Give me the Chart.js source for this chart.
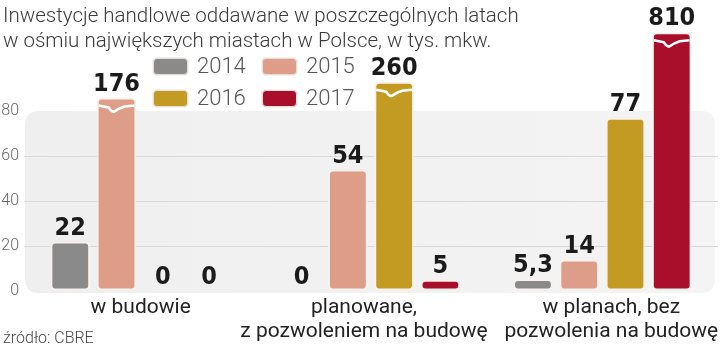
<!DOCTYPE html>
<html>
<head>
<meta charset="utf-8">
<script src="https://cdn.jsdelivr.net/npm/chart.js@4.4.1/dist/chart.umd.min.js"></script>
<style>
  html, body { margin: 0; padding: 0; background: #fff; }
  #wrap { position: relative; width: 720px; height: 347px; overflow: hidden; }
  #c { position: absolute; left: 0; top: 0; }
  .title { position: absolute; left: 3px; top: 3px; font-family: Roboto, sans-serif; font-weight: 300; font-size: 20.5px; line-height: 25px; color: #3a3a3a; white-space: nowrap; }
  .src { position: absolute; left: 3px; top: 328px; font-family: Roboto, sans-serif; font-weight: 300; font-size: 16px; color: #444; white-space: nowrap; }
  .lg { position: absolute; font-family: Roboto, sans-serif; font-weight: 300; font-size: 22px; color: #555; white-space: nowrap; line-height: 22px; }
  .sw { position: absolute; width: 33px; height: 15px; border-radius: 4px; border: 1px solid #e6ded8; box-shadow: 0 0 0 1px #f6f2ee; }
</style>
</head>
<body>
<div id="wrap">
  <canvas id="c" width="720" height="347"></canvas>
  <div class="title">Inwestycje handlowe oddawane w poszczególnych latach<br>w ośmiu największych miastach w Polsce, w tys. mkw.</div>
  <div id="legend"></div>
  <div class="src">źródło: CBRE</div>
</div>
<script>
// ---- data ----
const categories = [["w budowie"], ["planowane,", "z pozwoleniem na budowę"], ["w planach, bez", "pozwolenia na budowę"]];
const years = ["2014", "2015", "2016", "2017"];
const v2014 = [22, 0, 5.3];
const v2015 = [176, 54, 14];
const v2016 = [0, 260, 77];
const v2017 = [0, 5, 810];
const yTicks = [0, 20, 40, 60, 80];
const axisBreak = 80;
// heights (in axis units) at which bars beyond the axis break are cut off
const brokenShown2014 = [null, null, null];
const brokenShown2015 = [86, null, null];
const brokenShown2016 = [null, 93, null];
const brokenShown2017 = [null, null, 115];

const colors = ["#8a8a8a", "#dd9d88", "#c49b22", "#a90e2b"];
const values = [v2014, v2015, v2016, v2017];
const broken = [brokenShown2014, brokenShown2015, brokenShown2016, brokenShown2017];
const labelNudge = [1, -7, 9];

// ---- legend (HTML) ----
const legendPos = [[153, 58], [262, 58], [153, 90], [262, 90]];
const lg = document.getElementById('legend');
years.forEach((y, i) => {
  const sw = document.createElement('div');
  sw.className = 'sw';
  sw.style.left = legendPos[i][0] + 'px';
  sw.style.top = legendPos[i][1] + 'px';
  sw.style.background = colors[i];
  lg.appendChild(sw);
  const t = document.createElement('div');
  t.className = 'lg';
  t.textContent = y;
  t.style.left = (legendPos[i][0] + 44) + 'px';
  t.style.top = (legendPos[i][1] - 3) + 'px';
  lg.appendChild(t);
});

const fmt = v => String(v).replace('.', ',');

const datasets = years.map((y, i) => ({
  label: y,
  data: values[i].map((v, j) => (v > axisBreak && broken[i][j] != null) ? broken[i][j] : v),
  realValues: values[i],
  backgroundColor: colors[i],
  borderColor: 'rgba(248,240,236,0.95)',
  borderWidth: ctx => (ctx.raw === 0 ? 0 : 2),
  borderRadius: 5,
  borderSkipped: false,
  categoryPercentage: 0.8,
  barPercentage: 0.86
}));

const panelPlugin = {
  id: 'panel',
  beforeDraw(chart) {
    const { ctx, chartArea, scales } = chart;
    const y = scales.y;
    const top = y.getPixelForValue(axisBreak);
    const bot = y.getPixelForValue(0) + 2;
    const l = chartArea.left + 1, r = chartArea.right - 3;
    const rad = 14;
    ctx.save();
    const g = ctx.createLinearGradient(l, 0, r, 0);
    g.addColorStop(0, '#efefef');
    g.addColorStop(1, '#f4f4f4');
    ctx.fillStyle = g;
    ctx.beginPath();
    ctx.moveTo(l + rad, top);
    ctx.lineTo(r - rad, top);
    ctx.quadraticCurveTo(r, top, r, top + rad);
    ctx.lineTo(r, bot - rad);
    ctx.quadraticCurveTo(r, bot, r - rad, bot);
    ctx.lineTo(l + rad, bot);
    ctx.quadraticCurveTo(l, bot, l, bot - rad);
    ctx.lineTo(l, top + rad);
    ctx.quadraticCurveTo(l, top, l + rad, top);
    ctx.closePath();
    ctx.fill();
    ctx.restore();
  }
};

const xLabelPlugin = {
  id: 'xLabels',
  afterDraw(chart) {
    const { ctx, scales } = chart;
    const xs = scales.x;
    ctx.save();
    ctx.fillStyle = '#222';
    ctx.font = "21px Roboto, sans-serif";
    ctx.textAlign = 'center';
    ctx.textBaseline = 'alphabetic';
    const base = chart.chartArea.bottom + 22;
    chart.data.labels.forEach((lines, i) => {
      const x = xs.getPixelForValue(i) + labelNudge[i];
      lines.forEach((t, k) => ctx.fillText(t, x, base + k * 24));
    });
    ctx.restore();
  }
};

const labelPlugin = {
  id: 'barLabels',
  afterDatasetsDraw(chart) {
    const { ctx } = chart;
    ctx.save();
    chart.data.datasets.forEach((ds, i) => {
      const meta = chart.getDatasetMeta(i);
      meta.data.forEach((bar, j) => {
        const real = ds.realValues[j];
        const top = Math.min(bar.y, bar.base);
        if (real > axisBreak) {
          const w = bar.width, x0 = bar.x - w / 2 + 2, x1 = bar.x + w / 2 - 2;
          const yb = top + 10;
          ctx.strokeStyle = '#ffffff';
          ctx.lineWidth = 2.5;
          ctx.lineJoin = 'round';
          ctx.beginPath();
          ctx.moveTo(x0, yb - 2);
          ctx.lineTo(bar.x - w * 0.2, yb);
          ctx.quadraticCurveTo(bar.x - w * 0.12, yb + 5, bar.x - w * 0.05, yb + 4);
          ctx.quadraticCurveTo(bar.x + w * 0.05, yb + 1, bar.x + w * 0.2, yb - 1);
          ctx.lineTo(x1, yb - 2);
          ctx.stroke();
        }
        ctx.fillStyle = '#1b1b1b';
        ctx.font = "bold 25px 'Liberation Sans Narrow', 'DejaVu Sans Condensed', sans-serif";
        ctx.textAlign = 'center';
        ctx.textBaseline = 'alphabetic';
        ctx.fillText(fmt(real), bar.x, top - 7);
      });
    });
    ctx.restore();
  }
};

new Chart(document.getElementById('c'), {
  type: 'bar',
  data: { labels: categories, datasets },
  plugins: [panelPlugin, labelPlugin, xLabelPlugin],
  options: {
    responsive: false,
    animation: false,
    events: [],
    layout: { padding: { top: 21, right: 2, left: 0, bottom: 0 } },
    plugins: { legend: { display: false }, tooltip: { enabled: false }, title: { display: false } },
    scales: {
      x: {
        grid: { display: false, drawTicks: false },
        border: { display: false },
        ticks: { display: false },
        afterFit(scale) { scale.height = 56; }
      },
      y: {
        min: 0, max: 120,
        afterBuildTicks(scale) { scale.ticks = yTicks.map(v => ({ value: v })); },
        afterFit(scale) { scale.width = 24; },
        grid: {
          drawTicks: false,
          color: ctx => (ctx.tick && (ctx.tick.value === 0 || ctx.tick.value === axisBreak)) ? 'rgba(0,0,0,0)' : '#d8d8d8',
          lineWidth: 1
        },
        border: { display: false },
        ticks: {
          color: '#666',
          padding: 5,
          font: { family: 'Roboto, sans-serif', size: 16, weight: '300' }
        }
      }
    }
  }
});
</script>
</body>
</html>
